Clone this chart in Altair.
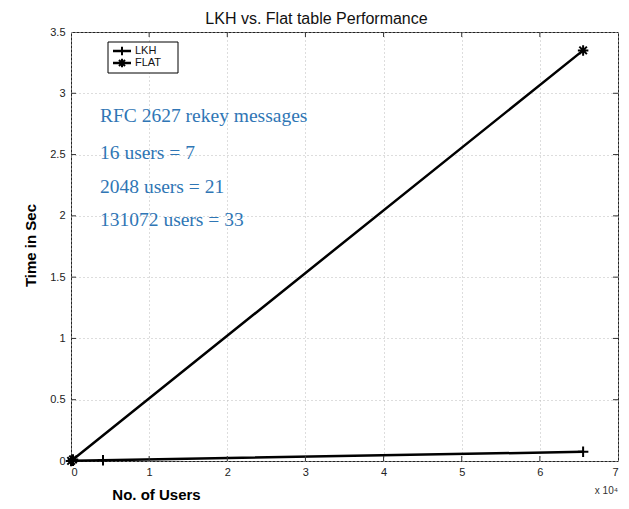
import altair as alt
import pandas as pd

# ---- data ----
series_names = ["LKH", "FLAT"]
users_lkh = [16, 256, 4096, 65536]
time_lkh = [0.0005, 0.002, 0.006, 0.075]
users_flat = [16, 256, 65536]
time_flat = [0.001, 0.013, 3.35]
x_tick_values = [0, 10000, 20000, 30000, 40000, 50000, 60000, 70000]
y_tick_values = [0, 0.5, 1, 1.5, 2, 2.5, 3, 3.5]
note_lines = ["RFC 2627 rekey messages", "16 users = 7", "2048 users = 21", "131072 users = 33"]

rows = [{"series": "LKH", "users": u, "time": t} for u, t in zip(users_lkh, time_lkh)]
rows += [{"series": "FLAT", "users": u, "time": t} for u, t in zip(users_flat, time_flat)]
df = pd.DataFrame(rows)

W, H = 547, 429
PLUS = "M-1,0H1M0,-1V1"
STAR = "M-1,0H1M0,-1V1M-0.72,-0.72L0.72,0.72M-0.72,0.72L0.72,-0.72"

xscale = alt.Scale(domain=[0, 70000], nice=False, zero=True)
yscale = alt.Scale(domain=[0, 3.5], nice=False, zero=True)

xaxis = alt.Axis(values=x_tick_values, labelExpr="datum.value / 10000", tickSize=0,
                 labelPadding=5, labelFontSize=11, labelColor="#222",
                 grid=True, gridDash=[1, 3], gridColor="#bbbbbb", domain=False,
                 title="No. of Users", titleFontSize=15, titleFontWeight="bold",
                 titleX=85, titleY=33, titleBaseline="middle", titleAnchor="middle")
yaxis = alt.Axis(values=y_tick_values, format="~g", tickSize=0, labelPadding=6, labelFontSize=11,
                 labelColor="#222", grid=True, gridDash=[1, 3], gridColor="#bbbbbb",
                 domain=False, title="Time in Sec", titleFontSize=15, titleFontWeight="bold",
                 titleX=-41, titleY=213, titleBaseline="middle", titleAnchor="middle")

base = alt.Chart(df)
lines = base.mark_line(color="black", strokeWidth=2.5).encode(
    x=alt.X("users:Q", scale=xscale, axis=xaxis),
    y=alt.Y("time:Q", scale=yscale, axis=yaxis),
    detail="series:N",
)
points = base.mark_point(filled=False, color="black", strokeWidth=2, size=110, opacity=1).encode(
    x=alt.X("users:Q", scale=xscale),
    y=alt.Y("time:Q", scale=yscale),
    shape=alt.Shape("series:N", scale=alt.Scale(domain=series_names, range=[PLUS, STAR]), legend=None),
)

# inward ticks
xt = pd.DataFrame({"v": x_tick_values[1:-1]})
yt = pd.DataFrame({"v": y_tick_values[1:-1]})
tick_style = dict(color="#333", strokeWidth=1)
xb = alt.Chart(xt).mark_rule(**tick_style).encode(x=alt.X("v:Q", scale=xscale), y=alt.value(H), y2=alt.value(H - 5))
xtop = alt.Chart(xt).mark_rule(**tick_style).encode(x=alt.X("v:Q", scale=xscale), y=alt.value(0), y2=alt.value(5))
yl = alt.Chart(yt).mark_rule(**tick_style).encode(y=alt.Y("v:Q", scale=yscale), x=alt.value(0), x2=alt.value(5))
yr = alt.Chart(yt).mark_rule(**tick_style).encode(y=alt.Y("v:Q", scale=yscale), x=alt.value(W), x2=alt.value(W - 5))

# legend box
one = pd.DataFrame({"k": [0]})
lbox = alt.Chart(one).mark_rect(fill="white", stroke="black", strokeWidth=1).encode(
    x=alt.value(37), x2=alt.value(107), y=alt.value(10), y2=alt.value(41))
leg_layers = [lbox]
for i, (name, shp) in enumerate(zip(series_names, [PLUS, STAR])):
    yy = 19 + i * 12
    d = pd.DataFrame({"label": [name]})
    leg_layers.append(alt.Chart(d).mark_rule(color="black", strokeWidth=2.5).encode(
        x=alt.value(42), x2=alt.value(60), y=alt.value(yy)))
    leg_layers.append(alt.Chart(d).mark_point(shape=shp, filled=False, color="black", strokeWidth=2,
                                              size=70, opacity=1).encode(x=alt.value(51), y=alt.value(yy)))
    leg_layers.append(alt.Chart(d).mark_text(align="left", baseline="middle", fontSize=11,
                                             color="#111").encode(
        x=alt.value(64), y=alt.value(yy), text="label:N"))

# blue annotation
note_y = [84, 121, 155, 188]
note_layers = []
for txt, yy in zip(note_lines, note_y):
    note_layers.append(alt.Chart(pd.DataFrame({"t": [txt]})).mark_text(
        align="left", baseline="middle", font="Liberation Serif", fontSize=19.5,
        color="#2f76b5").encode(x=alt.value(29), y=alt.value(yy), text="t:N"))

exp_label = alt.Chart(one).mark_text(align="right", baseline="middle", fontSize=10, color="#333").encode(
    x=alt.value(W), y=alt.value(H + 30), text=alt.value("x 10\u2074"))

chart = alt.layer(lines, points, xb, xtop, yl, yr, *leg_layers, *note_layers, exp_label).properties(
    width=W, height=H,
    title=alt.TitleParams("LKH vs. Flat table Performance", fontSize=16, fontWeight="normal",
                          color="#111", anchor="middle", dx=-28, dy=1, offset=0),
    autosize=alt.AutoSizeParams(type="none"),
    padding={"left": 63, "top": 24, "right": 3, "bottom": 40},
).configure(font="Liberation Sans").configure_view(stroke="#222", strokeWidth=1)

chart.save("out.html", embed_options={"renderer": "svg", "actions": False})
